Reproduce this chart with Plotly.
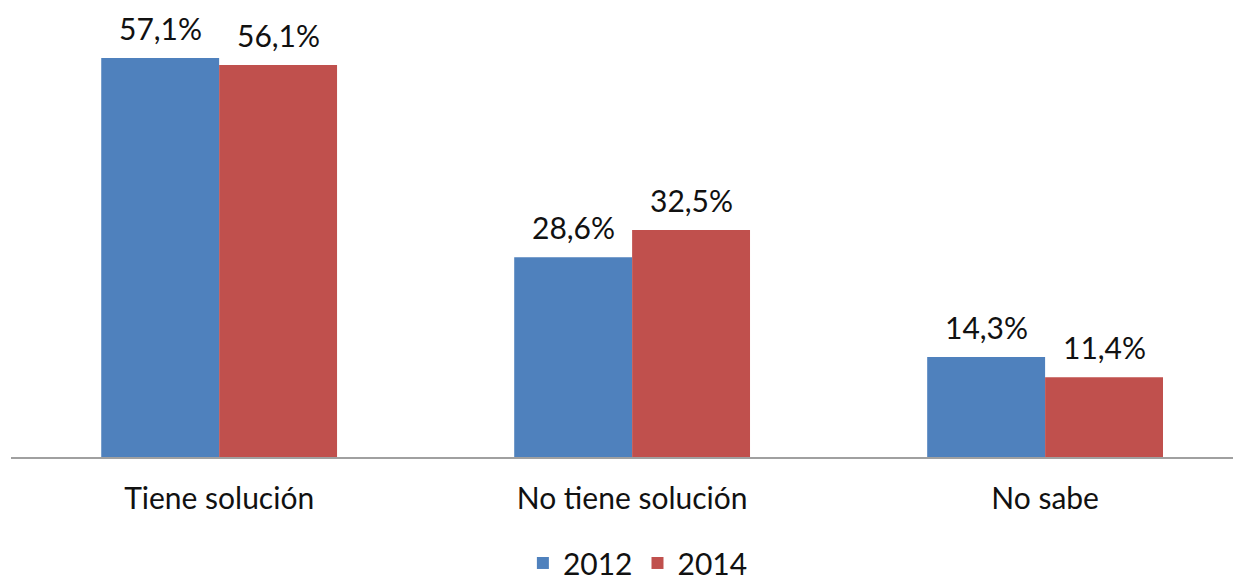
import plotly.graph_objects as go

categories = ["Tiene solución", "No tiene solución", "No sabe"]
values_2012 = [57.1, 28.6, 14.3]
values_2014 = [56.1, 32.5, 11.4]
years = ["2012", "2014"]

BLUE = "#4F81BD"
RED = "#C0504D"


def fmt(v):
    # Spanish decimal comma
    return f"{v:.1f}".replace(".", ",") + "%"


fig = go.Figure()
for name, vals, c in zip(years, [values_2012, values_2014], [BLUE, RED]):
    fig.add_trace(go.Bar(
        x=categories, y=vals, name=name, marker_color=c, marker_line_width=0,
    ))

# value labels sit a bit higher above the bars than plotly's outside text
for vals, shift in zip([values_2012, values_2014], [-59, 59]):
    for cat, v in zip(categories, vals):
        fig.add_annotation(x=cat, y=v, text=fmt(v), showarrow=False,
                           xshift=shift, yshift=30, yanchor="middle",
                           font=dict(size=30, color="#111111"))

fig.update_layout(
    width=1233, height=578,
    margin=dict(l=11, r=0, t=0, b=121),
    plot_bgcolor="white", paper_bgcolor="white",
    font=dict(family="Lato", size=30, color="#111111"),
    barmode="group", bargap=0.429, bargroupgap=0,
    showlegend=True,
    legend=dict(orientation="h", xanchor="center", x=0.513, yanchor="middle",
                yref="container", y=0.026, font=dict(size=30), itemwidth=30,
                traceorder="normal"),
    xaxis=dict(range=[-0.504, 2.455], showline=True, linecolor="#A0A0A0", linewidth=2,
               ticks="outside", ticklen=0, ticklabelstandoff=14, showgrid=False,
               automargin=False),
    yaxis=dict(range=[0, 65.4], visible=False, showgrid=False, automargin=False),
)

fig.write_html("out.html", config={"displayModeBar": False},
               post_script="document.body.style.margin='0';")
